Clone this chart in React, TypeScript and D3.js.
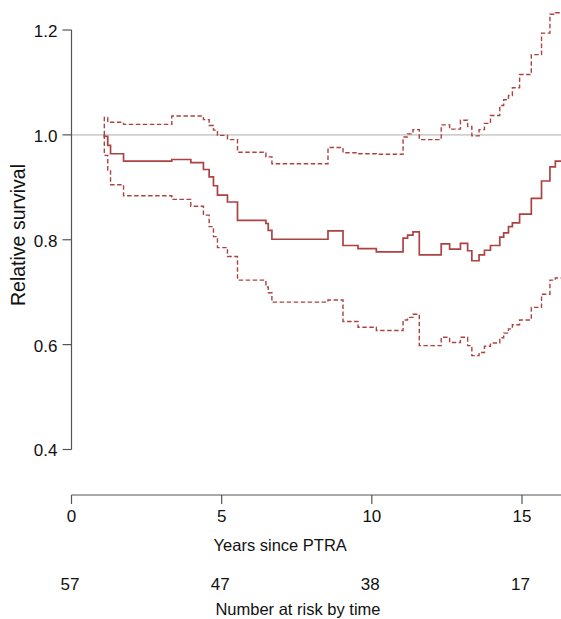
import React from 'react';
import * as d3 from 'd3';

// step change times (years since PTRA)
const times = [
  1.08, 1.093, 1.207, 1.3, 1.733, 3.34, 3.973, 4.393, 4.583, 4.727, 4.86, 5.193, 5.527,
  6.473, 6.55, 6.673, 8.54, 9.04, 9.54, 10.15, 11.04, 11.19, 11.37, 11.58, 12.31,
  12.59, 12.95, 13.19, 13.33, 13.57, 13.75, 13.95, 14.26, 14.39, 14.55, 14.68,
  14.92, 15.31, 15.65, 15.93, 16.11, 16.4,
];

const estimate = [
  1.0, 0.997, 0.98, 0.964, 0.95, 0.953, 0.947, 0.934, 0.92, 0.903, 0.885, 0.872, 0.837,
  0.831, 0.818, 0.801, 0.817, 0.789, 0.783, 0.777, 0.803, 0.809, 0.815, 0.771, 0.792,
  0.782, 0.793, 0.779, 0.76, 0.771, 0.78, 0.789, 0.805, 0.813, 0.825, 0.832,
  0.849, 0.879, 0.912, 0.939, 0.95, 0.95,
];

const lowerCI = [
  1.0, 0.961, 0.933, 0.905, 0.884, 0.877, 0.864, 0.847, 0.825, 0.806, 0.785, 0.768, 0.723,
  0.71, 0.699, 0.681, 0.685, 0.644, 0.633, 0.627, 0.647, 0.652, 0.658, 0.598, 0.614,
  0.604, 0.614, 0.598, 0.579, 0.585, 0.597, 0.603, 0.613, 0.622, 0.63, 0.638,
  0.647, 0.671, 0.696, 0.723, 0.727, 0.727,
];

const upperCI = [
  1.0, 1.033, 1.024, 1.024, 1.02, 1.036, 1.036, 1.029, 1.018, 1.009, 0.999, 0.991, 0.967,
  0.958, 0.958, 0.945, 0.976, 0.966, 0.964, 0.963, 0.996, 1.002, 1.01, 0.991, 1.019,
  1.011, 1.028, 1.016, 0.998, 1.01, 1.022, 1.037, 1.056, 1.067, 1.075, 1.09,
  1.115, 1.153, 1.194, 1.23, 1.233, 1.233,
];

const yTickValues = [0.4, 0.6, 0.8, 1.0, 1.2];
const xTickValues = [0, 5, 10, 15];
const riskTimes = [0, 5, 10, 15];
const atRisk = [57, 47, 38, 17];

const App: React.FC = () => {
  const width = 561;
  const height = 619;
  const lineColor = '#ad4242';
  const axisColor = '#555';
  const font = '"Liberation Sans", Arial, sans-serif';

  const xScale = d3.scaleLinear().domain([0, 15]).range([71.5, 522]);
  const yScale = d3.scaleLinear().domain([0.4, 1.2]).range([449.5, 30]);

  const line = d3
    .line<number>()
    .x((_, i) => xScale(times[i]))
    .y((d) => yScale(d))
    .curve(d3.curveStepAfter);

  const axisY = 495;
  const yAxisX = 71.5;

  return (
    <svg
      width={width}
      height={height}
      style={{ position: 'absolute', left: 0, top: 0, background: '#fff' }}
      fontFamily={font}
    >
      {/* reference line at 1 */}
      <line x1={yAxisX} x2={width} y1={yScale(1)} y2={yScale(1)} stroke="#cfcfcf" strokeWidth={1.6} />

      {/* y axis */}
      <line x1={yAxisX} x2={yAxisX} y1={yScale(1.2)} y2={yScale(0.4)} stroke={axisColor} strokeWidth={1.2} />
      {yTickValues.map((v) => (
        <g key={v} transform={`translate(${yAxisX}, ${yScale(v)})`}>
          <line x2={-9} stroke={axisColor} strokeWidth={1.2} />
          <text x={-14} y={1} dy="0.35em" textAnchor="end" fontSize={17} fill="#111">
            {v.toFixed(1)}
          </text>
        </g>
      ))}
      <text
        transform={`translate(25, 235) rotate(-90)`}
        textAnchor="middle"
        fontSize={19.5}
        fill="#111"
      >
        Relative survival
      </text>

      {/* curves */}
      <path d={line(upperCI) ?? ''} fill="none" stroke={lineColor} strokeWidth={1.4} strokeDasharray="4.5 2.5" />
      <path d={line(lowerCI) ?? ''} fill="none" stroke={lineColor} strokeWidth={1.4} strokeDasharray="4.5 2.5" />
      <path d={line(estimate) ?? ''} fill="none" stroke={lineColor} strokeWidth={1.7} />

      {/* x axis */}
      <line x1={yAxisX} x2={width} y1={axisY} y2={axisY} stroke={axisColor} strokeWidth={1.2} />
      {xTickValues.map((v) => (
        <g key={v} transform={`translate(${xScale(v)}, ${axisY})`}>
          <line y2={9} stroke={axisColor} strokeWidth={1.2} />
          <text y={26.5} textAnchor="middle" fontSize={17} fill="#111">
            {v}
          </text>
        </g>
      ))}
      <text x={xScale(6.95)} y={550.5} textAnchor="middle" fontSize={16.5} fill="#111">
        Years since PTRA
      </text>

      {/* number at risk */}
      {atRisk.map((n, i) => (
        <text key={i} x={xScale(riskTimes[i]) - 1.5} y={589.5} textAnchor="middle" fontSize={17} fill="#111">
          {n}
        </text>
      ))}
      <text x={xScale(7.54)} y={614.5} textAnchor="middle" fontSize={16.5} fill="#111">
        Number at risk by time
      </text>
    </svg>
  );
};

export default App;
